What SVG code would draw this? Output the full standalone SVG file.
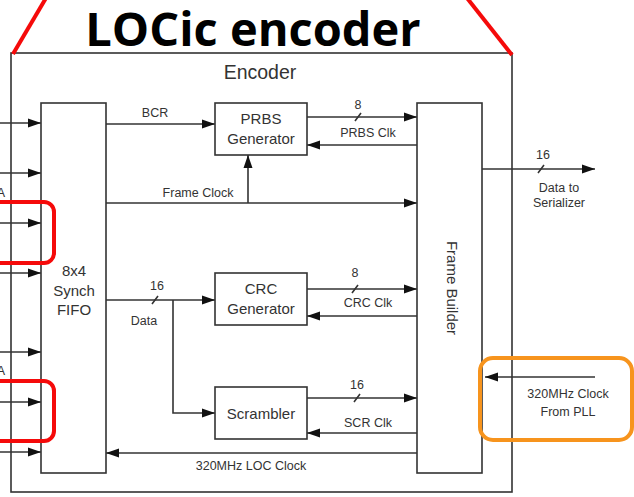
<svg xmlns="http://www.w3.org/2000/svg" width="634" height="497" viewBox="0 0 634 497">
<style>
.ln{fill:none;stroke:#333;stroke-width:1.6}
.bx{fill:#fff;stroke:#333;stroke-width:1.6}
.t{font-family:"Liberation Sans",Arial,sans-serif;fill:#333;text-anchor:middle}
.s{font-size:12.5px}
.m{font-size:15px}
.red{fill:none;stroke:#f50a0a;stroke-width:4}
</style>
<defs>
<marker id="ah" markerUnits="userSpaceOnUse" markerWidth="14" markerHeight="10" refX="13" refY="5" orient="auto">
<path d="M0,0.5 L13,5 L0,9.5 Z" fill="#111"/>
</marker>
</defs>
<rect width="634" height="497" fill="#fff"/>

<g id="encoder">
<rect x="11" y="53" width="501" height="439" class="bx"/>
<text x="260" y="79" class="t" style="font-size:19.5px">Encoder</text>
</g>

<g id="title">
<line x1="13" y1="54" x2="46" y2="-2" class="red"/>
<line x1="467" y1="-2" x2="512" y2="55" class="red"/>
<text x="253" y="46" style="font-family:'Open Sans',sans-serif;font-weight:bold;font-size:47px;fill:#000;text-anchor:middle">LOCic encoder</text>
</g>

<g id="connectors">
<path d="M0,123 H41" class="ln" marker-end="url(#ah)"/>
<path d="M0,173 H41" class="ln" marker-end="url(#ah)"/>
<path d="M0,223 H41" class="ln" marker-end="url(#ah)"/>
<path d="M0,273 H41" class="ln" marker-end="url(#ah)"/>
<path d="M0,352 H41" class="ln" marker-end="url(#ah)"/>
<path d="M0,402 H41" class="ln" marker-end="url(#ah)"/>
<path d="M0,452 H41" class="ln" marker-end="url(#ah)"/>
<path d="M106,124 H215" class="ln" marker-end="url(#ah)"/>
<path d="M106,203 H417" class="ln" marker-end="url(#ah)"/>
<path d="M248,203 V155" class="ln" marker-end="url(#ah)"/>
<path d="M307,117 H417" class="ln" marker-end="url(#ah)"/>
<path d="M417,145 H307" class="ln" marker-end="url(#ah)"/>
<path d="M482,169 H595" class="ln" marker-end="url(#ah)"/>
<path d="M106,300 H215" class="ln" marker-end="url(#ah)"/>
<path d="M173,300 V413 H215" class="ln" marker-end="url(#ah)"/>
<path d="M307,289 H417" class="ln" marker-end="url(#ah)"/>
<path d="M417,316 H307" class="ln" marker-end="url(#ah)"/>
<path d="M307,398 H417" class="ln" marker-end="url(#ah)"/>
<path d="M417,433 H307" class="ln" marker-end="url(#ah)"/>
<path d="M417,453 H106" class="ln" marker-end="url(#ah)"/>
<path d="M595,377 H485" class="ln" marker-end="url(#ah)"/>
<path d="M355,121 L361,113 M538,173 L544,165 M152,304 L158,296 M352,293 L358,285 M354,402 L360,394" class="ln"/>
<text x="155" y="117" class="t s">BCR</text>
<text x="198" y="197" class="t s">Frame Clock</text>
<text x="358" y="109" class="t s">8</text>
<text x="368" y="137" class="t s">PRBS Clk</text>
<text x="543" y="159" class="t s">16</text>
<text x="559" y="192" class="t s">Data to</text>
<text x="559" y="207" class="t s">Serializer</text>
<text x="157" y="290" class="t s">16</text>
<text x="144" y="325" class="t s">Data</text>
<text x="355" y="277" class="t s">8</text>
<text x="368" y="307" class="t s">CRC Clk</text>
<text x="357" y="389" class="t s">16</text>
<text x="368" y="427" class="t s">SCR Clk</text>
<text x="251" y="470" class="t s">320MHz LOC Clock</text>
<text x="568" y="398" class="t s">320MHz Clock</text>
<text x="568" y="416" class="t s">From PLL</text>
<text x="5" y="197" class="s" style="font-family:'Liberation Sans',sans-serif;fill:#333;text-anchor:end">A</text>
<text x="5" y="375" class="s" style="font-family:'Liberation Sans',sans-serif;fill:#333;text-anchor:end">A</text>
</g>

<g id="fifo">
<rect x="41" y="103" width="65" height="370" class="bx"/>
<text x="74" y="276" class="t m">8x4</text>
<text x="74" y="296" class="t m">Synch</text>
<text x="74" y="315" class="t m">FIFO</text>
</g>

<g id="prbs">
<rect x="215" y="103" width="92" height="52" class="bx"/>
<text x="261" y="124" class="t m">PRBS</text>
<text x="261" y="144" class="t m">Generator</text>
</g>

<g id="crc">
<rect x="215" y="273" width="92" height="52" class="bx"/>
<text x="261" y="294" class="t m">CRC</text>
<text x="261" y="314" class="t m">Generator</text>
</g>

<g id="scrambler">
<rect x="215" y="387" width="92" height="52" class="bx"/>
<text x="261" y="419" class="t m">Scrambler</text>
</g>

<g id="framebuilder">
<rect x="417" y="103" width="65" height="370" class="bx"/>
<text x="0" y="0" class="t m" transform="translate(447,288) rotate(90)">Frame Builder</text>
</g>

<g id="highlights">
<rect x="-10" y="202" width="64" height="61" rx="10" class="red"/>
<rect x="-10" y="381" width="64" height="60" rx="10" class="red"/>
<rect x="480" y="358" width="152" height="82" rx="13" style="fill:none;stroke:#f7941d;stroke-width:4"/>
</g>
</svg>
